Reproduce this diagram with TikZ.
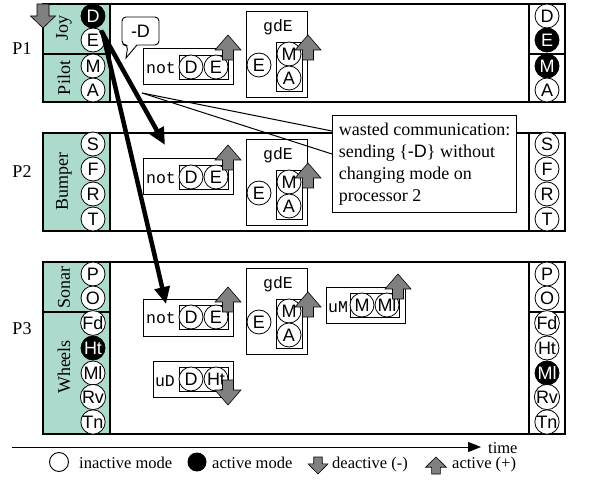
\documentclass[tikz,border=0pt]{standalone}
\usepackage{fontspec}
\setmainfont{Liberation Serif}
\setsansfont{Liberation Sans}
\setmonofont{Liberation Mono}
\usetikzlibrary{arrows.meta}
\definecolor{tealbg}{RGB}{172,219,206}
\newcommand\fsz[1]{\fontsize{#1}{#1}\selectfont}
\begin{document}
\begin{tikzpicture}[x=1pt,y=-1pt,
 md/.style={circle,draw,fill=white,line width=0.8pt,minimum size=24pt,inner sep=0pt,font=\sffamily\fsz{18}},
 mdon/.style={md,fill=black,text=white},
 pnl/.style={draw,line width=1.1pt},
 tealbox/.style={draw,line width=1.1pt,fill=tealbg},
 grp/.style={draw,line width=0.9pt,fill=white},
 inbox/.style={draw,line width=0.9pt},
 vlab/.style={rotate=90,font=\fsz{18}},
 mono/.style={font=\ttfamily\fsz{16.5},inner sep=0pt},
 plab/.style={font=\fsz{18}},
 garrow/.style={draw=black,fill=gray,line width=0.6pt},
 uparr/.pic={\path[garrow] (-5.5,0) -- (-5.5,-10) -- (-13,-10) -- (0,-25) -- (13,-10) -- (5.5,-10) -- (5.5,0) -- cycle;},
 downarr/.pic={\path[garrow] (-5.5,0) -- (-5.5,10) -- (-13,10) -- (0,25) -- (13,10) -- (5.5,10) -- (5.5,0) -- cycle;},
 bigarr/.style={line width=4.5pt,-{Triangle[length=17pt,width=15pt]}},
 legtext/.style={font=\fsz{16.5},anchor=base west,inner sep=0pt}
]
\useasboundingbox (0,0) rectangle (590,484);

% ---------------- P1 ----------------
\draw[pnl] (43,4) rectangle (565,102);
\draw[tealbox] (43,4) rectangle (110,102);
\draw[pnl] (43,54) -- (110,54);
\draw[pnl] (529,4) rectangle (565,102);
\draw[pnl] (529,54) -- (565,54);
\node[plab] (P1) at (22,49) {P1};
\node[vlab] (joy) at (64,28) {Joy};
\node[vlab] (pilot) at (64,78) {Pilot};
\node[mdon] (p1D) at (93,16) {D};
\node[md] (p1E) at (93,40) {E};
\node[md] (p1M) at (93,66) {M};
\node[md] (p1A) at (93,90) {A};
\node[md] (r1D) at (547,16) {D};
\node[mdon] (r1E) at (547,40) {E};
\node[mdon] (r1M) at (547,66) {M};
\node[md] (r1A) at (547,90) {A};
\path[garrow] (37,4) -- (37,16) -- (30.5,16) -- (43,28) -- (55.5,16) -- (49,16) -- (49,4) -- cycle;

% -D callout
\draw[line width=0.9pt,fill=white,rounded corners=4pt] (137,45) -- (159,45) -- (159,17) -- (122,17) -- (122,45) -- (128,45) [sharp corners] -- (126,58) -- cycle;
\node[font=\sffamily\fsz{18}] (negD) at (140.5,31) {-D};

% not box P1
\draw[grp] (143,48) rectangle (233,84);
\draw[inbox] (179,55) rectangle (228,79);
\node[mono] (not1) at (161,68) {not};
\node[md] (n1D) at (191,67) {D};
\node[md] (n1E) at (216,67) {E};
\pic at (228,60) {uparr};
% gdE P1
\draw[grp] (246,11) rectangle (307,97);
\node[mono] (gdE1) at (278,27) {gdE};
\node[md] (g1E) at (259,65) {E};
\draw[inbox] (276,42) rectangle (302,91);
\node[md] (g1M) at (289,54) {M};
\node[md] (g1A) at (289,78) {A};
\pic at (308,60) {uparr};

% ---------------- P2 ----------------
\draw[pnl] (43,133) rectangle (565,231);
\draw[tealbox] (43,133) rectangle (110,231);
\draw[pnl] (529,133) rectangle (565,231);
\node[plab] (P2) at (22,172) {P2};
\node[vlab] (bumper) at (64,182) {Bumper};
\node[md] (p2S) at (93,144) {S};
\node[md] (p2F) at (93,169) {F};
\node[md] (p2R) at (93,194) {R};
\node[md] (p2T) at (93,219) {T};
\node[md] (r2S) at (547,144) {S};
\node[md] (r2F) at (547,169) {F};
\node[md] (r2R) at (547,194) {R};
\node[md] (r2T) at (547,219) {T};
% not box P2
\draw[grp] (143,158) rectangle (233,194);
\draw[inbox] (179,165) rectangle (228,189);
\node[mono] (not2) at (161,178) {not};
\node[md] (n2D) at (191,177) {D};
\node[md] (n2E) at (216,177) {E};
\pic at (228,170) {uparr};
% gdE P2
\draw[grp] (246,139) rectangle (307,225);
\node[mono] (gdE2) at (278,155) {gdE};
\node[md] (g2E) at (259,193) {E};
\draw[inbox] (276,170) rectangle (302,219);
\node[md] (g2M) at (289,182) {M};
\node[md] (g2A) at (289,206) {A};
\pic at (308,188) {uparr};

% ---------------- P3 ----------------
\draw[pnl] (43,262) rectangle (565,434);
\draw[tealbox] (43,262) rectangle (110,434);
\draw[pnl] (43,312) -- (110,312);
\draw[pnl] (529,262) rectangle (565,434);
\draw[pnl] (529,312) -- (565,312);
\node[plab] (P3) at (22,329) {P3};
\node[vlab] (sonar) at (64,288) {Sonar};
\node[vlab] (wheels) at (64,367) {Wheels};
\node[md] (p3P) at (93,274) {P};
\node[md] (p3O) at (93,298) {O};
\node[md] (p3Fd) at (93,323) {Fd};
\node[mdon] (p3Ht) at (93,348) {Ht};
\node[md] (p3Ml) at (93,373) {Ml};
\node[md] (p3Rv) at (93,397) {Rv};
\node[md] (p3Tn) at (93,422) {Tn};
\node[md] (r3P) at (547,274) {P};
\node[md] (r3O) at (547,298) {O};
\node[md] (r3Fd) at (547,323) {Fd};
\node[md] (r3Ht) at (547,348) {Ht};
\node[mdon] (r3Ml) at (547,373) {Ml};
\node[md] (r3Rv) at (547,397) {Rv};
\node[md] (r3Tn) at (547,422) {Tn};
% not box P3
\draw[grp] (143,299) rectangle (233,336);
\draw[inbox] (179,305) rectangle (228,329);
\node[mono] (not3) at (161,318) {not};
\node[md] (n3D) at (191,317) {D};
\node[md] (n3E) at (216,317) {E};
\pic at (228,312) {uparr};
% gdE P3
\draw[grp] (246,268) rectangle (307,354);
\node[mono] (gdE3) at (278,284) {gdE};
\node[md] (g3E) at (259,322) {E};
\draw[inbox] (276,299) rectangle (302,348);
\node[md] (g3M) at (289,311) {M};
\node[md] (g3A) at (289,335) {A};
\pic at (308,317) {uparr};
% uM box
\draw[grp] (326,287) rectangle (405,323);
\draw[inbox] (350,293) rectangle (399,317);
\node[mono] (uM) at (338,307) {uM};
\node[md] (uMM) at (362,305) {M};
\node[md] (uMMl) at (387,305) {Ml};
\pic at (398,299) {uparr};
% uD box
\draw[grp] (153,361) rectangle (233,397);
\draw[inbox] (179,367) rectangle (228,391);
\node[mono] (uD) at (165,381) {uD};
\node[md] (uDD) at (191,379) {D};
\node[md] (uDHt) at (216,379) {Ht};
\pic at (228,380) {downarr};

% ---------------- messages ----------------
\coordinate (t2) at (165,145);
\coordinate (t3) at (166,304);
\draw[bigarr] (p1E.50) -- (t2);
\draw[bigarr] (p1E.40) -- (t3);

% wasted communication callout
\coordinate (wedge) at (142,93);
\node[draw,fill=white,line width=1.1pt,anchor=north west,minimum width=184pt,minimum height=97pt,
      inner xsep=5pt,inner ysep=6pt,align=left,font=\fontsize{18}{22}\selectfont] (note) at (332,115)
  {wasted communication:\\ sending \{{\sffamily -D}\} without\\ changing mode on\\ processor 2};
\draw[line width=1pt] (wedge) -- ([yshift=-16pt]note.north west);
\draw[line width=1pt] (wedge) -- ([yshift=-39pt]note.north west);

% ---------------- time line ----------------
\coordinate (tl0) at (12,447);
\coordinate (tl1) at (481,447);
\draw[line width=1pt,-{Triangle[length=13pt,width=10pt]}] (tl0) -- (tl1);
\node[legtext] (time) at (488,453) {time};

% ---------------- legend ----------------
\node[circle,draw,line width=0.9pt,minimum size=19pt,inner sep=0pt] (legin) at (59,462) {};
\node[legtext] (legint) at (79,468) {inactive mode};
\node[circle,fill=black,minimum size=19pt,inner sep=0pt] (legon) at (197,462) {};
\node[legtext] (legont) at (212,468) {active mode};
\pic[xscale=0.77,yscale=0.68] at (318,457) {downarr};
\node[legtext] (legde) at (332,468) {deactive (-)};
\pic[xscale=0.8,yscale=0.68] at (436,474) {uparr};
\node[legtext] (legac) at (452,468) {active (+)};
\end{tikzpicture}
\end{document}
